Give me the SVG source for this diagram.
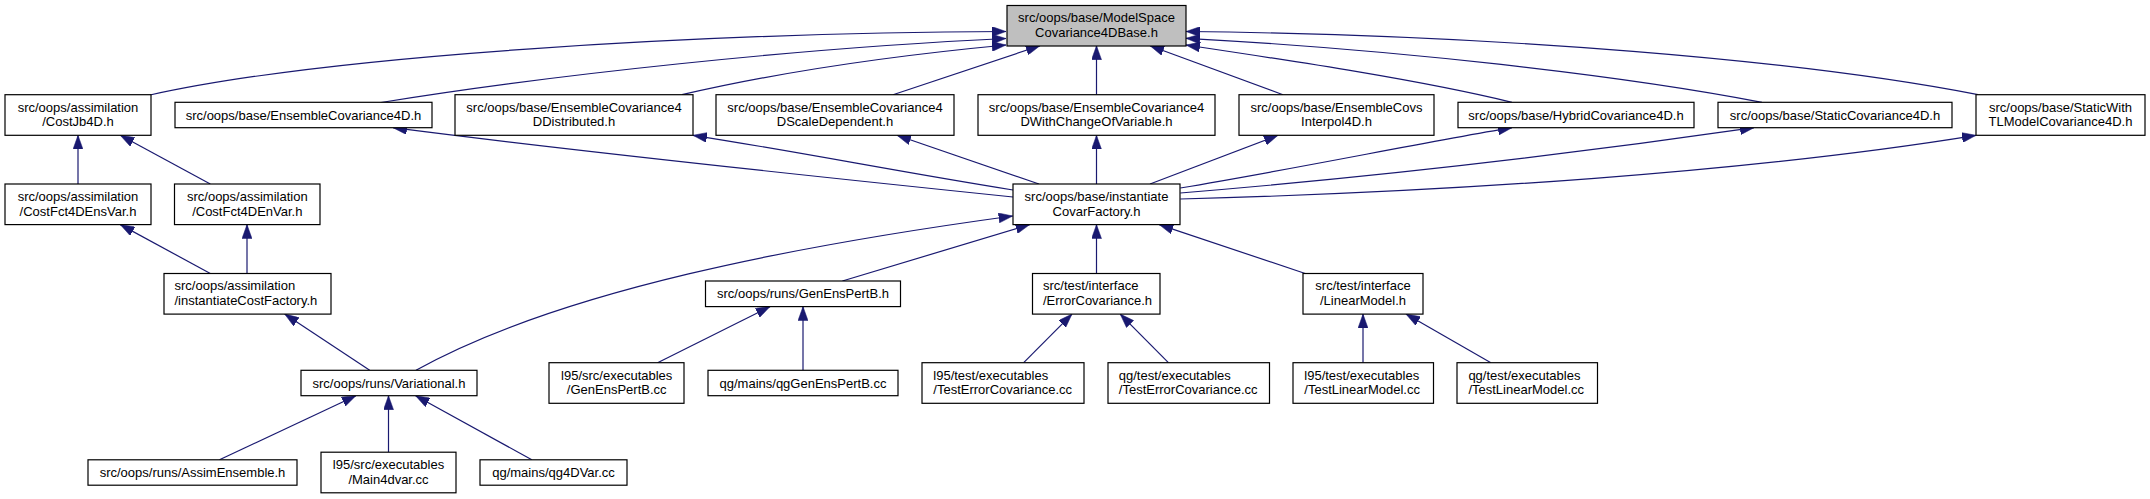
<svg xmlns="http://www.w3.org/2000/svg" width="2150" height="499" viewBox="0 0 2150 499">
<style>
  .n rect { fill: #ffffff; stroke: #000000; stroke-width: 1.2; }
  .n.root rect { fill: #bfbfbf; }
  .n text { font-family: "Liberation Sans", Arial, Helvetica, sans-serif; font-size: 13px; fill: #000000; text-anchor: middle; }
  .n text.l { text-anchor: start; }
  .e path { fill: none; stroke: #191970; stroke-width: 1.2; marker-start: url(#ah); }
</style>
<defs>
  <marker id="ah" viewBox="0 0 14 10" refX="14" refY="5" markerWidth="14" markerHeight="10" markerUnits="userSpaceOnUse" orient="auto-start-reverse">
    <path d="M0,0 L14,5 L0,10 z" fill="#191970" stroke="#191970" stroke-width="0.5"/>
  </marker>
</defs>
<rect width="2150" height="499" fill="#ffffff"/>

<g id="edges" class="e">
  <!-- to ModelSpace -->
  <path d="M1006,31.5 C700,33 330,55 150,95"/>
  <path d="M1006,38.5 C800,48 550,75 381,102.5"/>
  <path d="M1006,45 C900,55 780,72 682,94.7"/>
  <path d="M1040,45.7 L893,94.7"/>
  <path d="M1096.5,45.7 L1096.5,94.7"/>
  <path d="M1150,45.7 L1283,94.7"/>
  <path d="M1186,45 C1300,62 1420,80 1512,102.3"/>
  <path d="M1186,38.3 C1400,50 1620,75 1762,102.3"/>
  <path d="M1186,31.5 C1500,35 1800,60 1978,94.7"/>
  <!-- from CovarFactory -->
  <path d="M393,127.7 C550,148 800,175 1013,197"/>
  <path d="M693,135.3 C800,152 900,172 1013,190"/>
  <path d="M897,135.3 L1039,184"/>
  <path d="M1096.5,135.3 L1096.5,184"/>
  <path d="M1278,135.3 L1150,184"/>
  <path d="M1512,127.7 C1420,143 1300,168 1180.3,188"/>
  <path d="M1754,127.7 C1600,150 1400,175 1180.3,193"/>
  <path d="M1976,135.3 C1750,172 1450,192 1180.3,199"/>
  <!-- left cluster -->
  <path d="M78,135.3 L78,184"/>
  <path d="M120.3,135.3 L210.3,184"/>
  <path d="M120.3,224.6 L210.3,273.5"/>
  <path d="M247,224.6 L247,273.5"/>
  <path d="M284.7,314.1 L369.7,370.3"/>
  <path d="M1012.7,216 C800,245 560,290 416,370.3"/>
  <path d="M355.9,395.7 L219.5,459.8"/>
  <path d="M388.5,395.7 L388.5,452.2"/>
  <path d="M415.6,395.7 L531.8,459.8"/>
  <!-- lower middle -->
  <path d="M1029.7,224.6 L842.4,281"/>
  <path d="M1096.5,224.6 L1096.5,273.5"/>
  <path d="M1159.2,224.6 L1305.2,273.5"/>
  <path d="M770,306.6 L657.6,362.7"/>
  <path d="M803,306.6 L803,370.3"/>
  <path d="M1072,314.1 L1023.7,362.7"/>
  <path d="M1120.2,314.1 L1168.4,362.7"/>
  <path d="M1363,314.1 L1363,362.7"/>
  <path d="M1406,314.1 L1490.9,362.7"/>
</g>

<g id="modelspace" class="n root">
  <rect x="1007" y="5.5" width="179" height="40.5"/>
  <text x="1096.5" y="22.2">src/oops/base/ModelSpace</text>
  <text x="1096.5" y="36.9">Covariance4DBase.h</text>
</g>

<g id="costjb4d" class="n">
  <rect x="5" y="94.7" width="146" height="40.6"/>
  <text x="78" y="111.5">src/oops/assimilation</text>
  <text x="78" y="126.2">/CostJb4D.h</text>
</g>
<g id="enscov4d" class="n">
  <rect x="175" y="102.3" width="257" height="25.4"/>
  <text x="303.5" y="119.5">src/oops/base/EnsembleCovariance4D.h</text>
</g>
<g id="enscov4ddistributed" class="n">
  <rect x="455" y="94.7" width="238" height="40.6"/>
  <text x="574" y="111.5">src/oops/base/EnsembleCovariance4</text>
  <text x="574" y="126.2">DDistributed.h</text>
</g>
<g id="enscov4dscaledependent" class="n">
  <rect x="716" y="94.7" width="238" height="40.6"/>
  <text x="835" y="111.5">src/oops/base/EnsembleCovariance4</text>
  <text x="835" y="126.2">DScaleDependent.h</text>
</g>
<g id="enscov4dwithchange" class="n">
  <rect x="978" y="94.7" width="237" height="40.6"/>
  <text x="1096.5" y="111.5">src/oops/base/EnsembleCovariance4</text>
  <text x="1096.5" y="126.2">DWithChangeOfVariable.h</text>
</g>
<g id="enscovsinterpol4d" class="n">
  <rect x="1239" y="94.7" width="195" height="40.6"/>
  <text x="1336.5" y="111.5">src/oops/base/EnsembleCovs</text>
  <text x="1336.5" y="126.2">Interpol4D.h</text>
</g>
<g id="hybridcov4d" class="n">
  <rect x="1458" y="102.3" width="236" height="25.4"/>
  <text x="1576" y="119.5">src/oops/base/HybridCovariance4D.h</text>
</g>
<g id="staticcov4d" class="n">
  <rect x="1718" y="102.3" width="234" height="25.4"/>
  <text x="1835" y="119.5">src/oops/base/StaticCovariance4D.h</text>
</g>
<g id="staticwithtl" class="n">
  <rect x="1976" y="94.7" width="169" height="40.6"/>
  <text x="2060.5" y="111.5">src/oops/base/StaticWith</text>
  <text x="2060.5" y="126.2">TLModelCovariance4D.h</text>
</g>

<g id="costfct4densvar" class="n">
  <rect x="5" y="184" width="146" height="40.6"/>
  <text x="78" y="200.8">src/oops/assimilation</text>
  <text x="78" y="215.5">/CostFct4DEnsVar.h</text>
</g>
<g id="costfct4denvar" class="n">
  <rect x="174.5" y="184" width="145.5" height="40.6"/>
  <text x="247.3" y="200.8">src/oops/assimilation</text>
  <text x="247.3" y="215.5">/CostFct4DEnVar.h</text>
</g>
<g id="covarfactory" class="n">
  <rect x="1013" y="184" width="167" height="40.6"/>
  <text x="1096.5" y="200.8">src/oops/base/instantiate</text>
  <text x="1096.5" y="215.5">CovarFactory.h</text>
</g>

<g id="instcostfactory" class="n">
  <rect x="164" y="273.5" width="167" height="40.6"/>
  <text class="l" x="174.5" y="290.3">src/oops/assimilation</text>
  <text class="l" x="174.5" y="305">/instantiateCostFactory.h</text>
</g>
<g id="genenspertb_h" class="n">
  <rect x="705.5" y="281" width="195" height="25.6"/>
  <text x="803" y="298.3">src/oops/runs/GenEnsPertB.h</text>
</g>
<g id="errorcovariance" class="n">
  <rect x="1032.5" y="273.5" width="127.5" height="40.6"/>
  <text class="l" x="1043" y="290.3">src/test/interface</text>
  <text class="l" x="1043" y="305">/ErrorCovariance.h</text>
</g>
<g id="linearmodel" class="n">
  <rect x="1303" y="273.5" width="120" height="40.6"/>
  <text x="1363" y="290.3">src/test/interface</text>
  <text x="1363" y="305">/LinearModel.h</text>
</g>

<g id="variational" class="n">
  <rect x="301" y="370.3" width="176" height="25.4"/>
  <text x="389" y="387.5">src/oops/runs/Variational.h</text>
</g>
<g id="l95genenspertb" class="n">
  <rect x="549" y="362.7" width="135" height="40.6"/>
  <text x="616.7" y="379.5">l95/src/executables</text>
  <text x="616.7" y="394.2">/GenEnsPertB.cc</text>
</g>
<g id="qggenenspertb" class="n">
  <rect x="708" y="370.3" width="190" height="25.4"/>
  <text x="803" y="387.5">qg/mains/qgGenEnsPertB.cc</text>
</g>
<g id="l95testerrorcov" class="n">
  <rect x="922" y="362.7" width="162" height="40.6"/>
  <text class="l" x="933.3" y="379.5">l95/test/executables</text>
  <text class="l" x="933.3" y="394.2">/TestErrorCovariance.cc</text>
</g>
<g id="qgtesterrorcov" class="n">
  <rect x="1108" y="362.7" width="161.5" height="40.6"/>
  <text class="l" x="1118.8" y="379.5">qg/test/executables</text>
  <text class="l" x="1118.8" y="394.2">/TestErrorCovariance.cc</text>
</g>
<g id="l95testlinearmodel" class="n">
  <rect x="1293" y="362.7" width="140.5" height="40.6"/>
  <text class="l" x="1304.3" y="379.5">l95/test/executables</text>
  <text class="l" x="1304.3" y="394.2">/TestLinearModel.cc</text>
</g>
<g id="qgtestlinearmodel" class="n">
  <rect x="1457" y="362.7" width="140.5" height="40.6"/>
  <text class="l" x="1468.4" y="379.5">qg/test/executables</text>
  <text class="l" x="1468.4" y="394.2">/TestLinearModel.cc</text>
</g>

<g id="assimensemble" class="n">
  <rect x="88" y="459.8" width="209" height="25.4"/>
  <text x="192.5" y="477">src/oops/runs/AssimEnsemble.h</text>
</g>
<g id="main4dvar" class="n">
  <rect x="321" y="452.2" width="135" height="40.6"/>
  <text x="388.5" y="469">l95/src/executables</text>
  <text x="388.5" y="483.7">/Main4dvar.cc</text>
</g>
<g id="qg4dvar" class="n">
  <rect x="480" y="459.8" width="147" height="25.4"/>
  <text x="553.5" y="477">qg/mains/qg4DVar.cc</text>
</g>
</svg>
